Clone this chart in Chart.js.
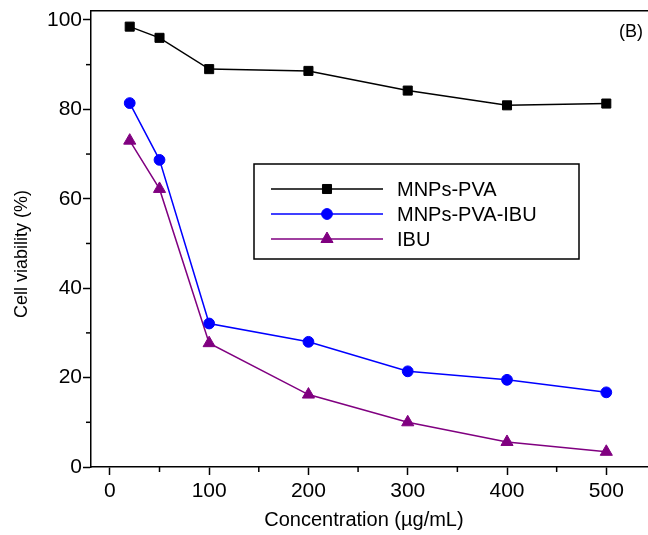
<!DOCTYPE html>
<html>
<head>
<meta charset="utf-8">
<title>Cell viability</title>
<script src="https://cdn.jsdelivr.net/npm/chart.js"></script>
<style>
  html, body { margin: 0; padding: 0; background: #fff; overflow: hidden; }
  .chart-box { width: 648px; height: 535px; }
</style>
</head>
<body>
<div class="chart-box">
  <canvas id="myChart" width="648" height="535"></canvas>
</div>
<script>
const concentrations = [20, 50, 100, 200, 300, 400, 500];
const mnpsPva = [98.5, 96.0, 89.0, 88.6, 84.2, 80.9, 81.3];
const mnpsPvaIbu = [81.4, 68.7, 32.1, 28.0, 21.4, 19.5, 16.7];
const ibu = [73.0, 62.2, 27.7, 16.2, 10.0, 5.6, 3.4];

const seriesNames = ['MNPs-PVA', 'MNPs-PVA-IBU', 'IBU'];

const xTicks = [0, 100, 200, 300, 400, 500];
const xMinorTicks = [50, 150, 250, 350, 450];
const yTicks = [0, 20, 40, 60, 80, 100];
const yMinorTicks = [10, 30, 50, 70, 90];

const fontFamily = '"Liberation Sans", Arial, Helvetica, sans-serif';

function toPoints(values) {
  return concentrations.map((c, i) => ({ x: c, y: values[i] }));
}

// petits ticks entre les graduations
const minorTicksPlugin = {
  id: 'minorTicks',
  afterDraw(chart) {
    const ctx = chart.ctx;
    const xs = chart.scales.x;
    const ys = chart.scales.y;
    ctx.save();
    ctx.strokeStyle = '#000';
    ctx.lineWidth = 1.5;
    xMinorTicks.forEach(v => {
      const px = xs.getPixelForValue(v);
      ctx.beginPath();
      ctx.moveTo(px, xs.top);
      ctx.lineTo(px, xs.top + 5);
      ctx.stroke();
    });
    yMinorTicks.forEach(v => {
      const py = ys.getPixelForValue(v);
      ctx.beginPath();
      ctx.moveTo(ys.right, py);
      ctx.lineTo(ys.right - 5, py);
      ctx.stroke();
    });
    ctx.restore();
  }
};

// legende dans un cadre + label (B)
const boxLegendPlugin = {
  id: 'boxLegend',
  afterDraw(chart) {
    const ctx = chart.ctx;
    ctx.save();
    ctx.strokeStyle = '#000';
    ctx.lineWidth = 1.5;
    ctx.strokeRect(254, 164, 325, 95);

    const rows = [189, 214, 239];
    chart.data.datasets.forEach((ds, i) => {
      const y = rows[i];
      ctx.strokeStyle = ds.borderColor;
      ctx.lineWidth = ds.borderWidth;
      ctx.beginPath();
      ctx.moveTo(271, y);
      ctx.lineTo(383, y);
      ctx.stroke();
      ctx.fillStyle = ds.pointBackgroundColor;
      ctx.strokeStyle = ds.pointBorderColor;
      ctx.lineWidth = ds.pointBorderWidth;
      Chart.helpers.drawPoint(ctx, {
        pointStyle: ds.pointStyle,
        radius: ds.pointRadius,
        rotation: 0,
        borderWidth: ds.pointBorderWidth
      }, 327, y);
      ctx.fillStyle = '#000';
      ctx.font = '20px ' + fontFamily;
      ctx.textAlign = 'left';
      ctx.textBaseline = 'middle';
      ctx.fillText(ds.label, 397, y + 1);
    });

    ctx.font = '18px ' + fontFamily;
    ctx.textAlign = 'center';
    ctx.fillText('(B)', 631, 32);
    ctx.restore();
  }
};

function createViabilityChart() {
  const ctx = document.getElementById('myChart').getContext('2d');
  new Chart(ctx, {
    type: 'line',
    data: {
      datasets: [{
        label: seriesNames[0],
        data: toPoints(mnpsPva),
        borderColor: '#000000',
        borderWidth: 1.5,
        pointStyle: 'rect',
        pointRadius: 6.4,
        pointBackgroundColor: '#000000',
        pointBorderColor: '#000000',
        pointBorderWidth: 1
      }, {
        label: seriesNames[1],
        data: toPoints(mnpsPvaIbu),
        borderColor: '#0000ff',
        borderWidth: 1.5,
        pointStyle: 'circle',
        pointRadius: 5.4,
        pointBackgroundColor: '#0000ff',
        pointBorderColor: '#0000ff',
        pointBorderWidth: 1
      }, {
        label: seriesNames[2],
        data: toPoints(ibu),
        borderColor: '#800080',
        borderWidth: 1.5,
        pointStyle: 'triangle',
        pointRadius: 7,
        pointBackgroundColor: '#800080',
        pointBorderColor: '#800080',
        pointBorderWidth: 1
      }]
    },
    options: {
      responsive: false,
      animation: false,
      devicePixelRatio: 1,
      layout: { autoPadding: false, padding: { top: 11, right: 0, bottom: 0, left: 0 } },
      plugins: {
        legend: { display: false },
        tooltip: { enabled: false }
      },
      scales: {
        x: {
          type: 'linear',
          position: 'bottom',
          min: -19,
          max: 542,
          afterBuildTicks: s => { s.ticks = xTicks.map(v => ({ value: v })); },
          afterFit: s => { s.height = 68; s.paddingLeft = 0; s.paddingRight = 0; },
          border: { color: '#000', width: 1.5 },
          grid: { drawOnChartArea: false, tickLength: 8, tickWidth: 1.5, tickColor: '#000' },
          ticks: { color: '#000', padding: 6, font: { family: fontFamily, size: 21, lineHeight: 1 } },
          title: {
            display: true,
            text: 'Concentration (\u00b5g/mL)  ',
            color: '#000',
            font: { family: fontFamily, size: 20 },
            padding: { top: 0, bottom: 3 }
          }
        },
        xTop: {
          type: 'linear',
          position: 'top',
          min: -19,
          max: 542,
          afterFit: s => { s.paddingLeft = 0; s.paddingRight = 0; },
          border: { color: '#000', width: 1.5 },
          grid: { display: false, drawTicks: false },
          ticks: { display: false }
        },
        y: {
          min: 0,
          max: 102,
          afterBuildTicks: s => { s.ticks = yTicks.map(v => ({ value: v })); },
          afterFit: s => { s.width = 91; s.paddingTop = 0; s.paddingBottom = 0; },
          border: { color: '#000', width: 1.5 },
          grid: { drawOnChartArea: false, tickLength: 8, tickWidth: 1.5, tickColor: '#000' },
          ticks: { color: '#000', padding: 1, font: { family: fontFamily, size: 21, lineHeight: 1 } },
          title: {
            display: true,
            text: 'Cell viability (%)      ',
            color: '#000',
            font: { family: fontFamily, size: 18 },
            padding: { top: 11, bottom: 0 }
          }
        }
      }
    },
    plugins: [minorTicksPlugin, boxLegendPlugin]
  });
}

createViabilityChart();
</script>
</body>
</html>
